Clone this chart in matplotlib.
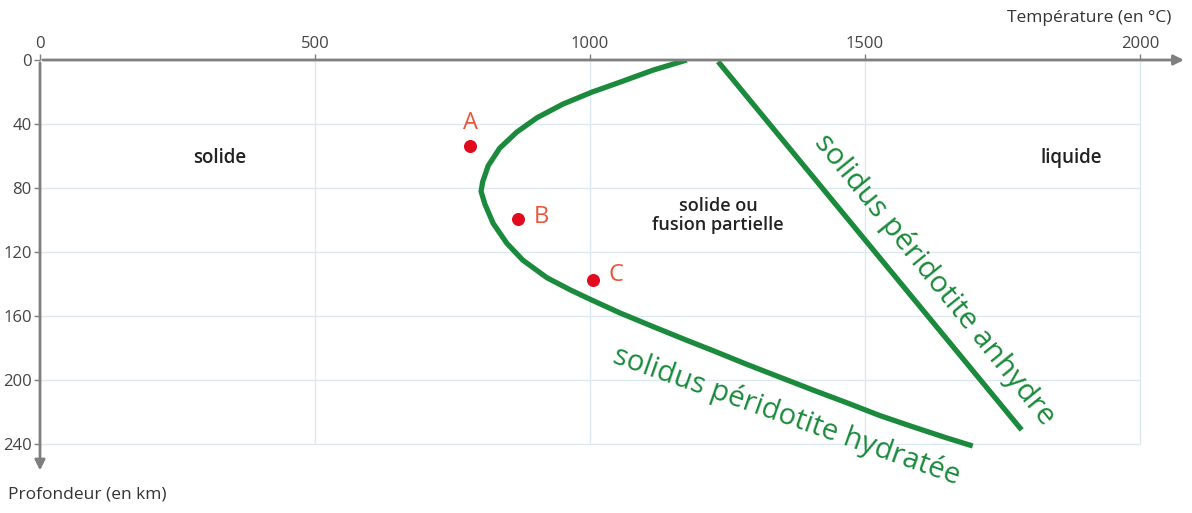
import numpy as np
import matplotlib.pyplot as plt

plt.rcParams['font.family'] = ['Open Sans', 'DejaVu Sans']

# solidus hydraté (température °C, profondeur km)
hyd_T = [1176, 1115, 1055, 1004, 951, 904, 867, 836, 815, 805, 802, 809, 824, 849, 878,
         922, 964, 1004, 1055, 1115, 1176, 1224, 1285, 1345, 1405, 1467, 1527, 1587, 1649, 1696]
hyd_z = [0, 6.3, 13.8, 20, 27.5, 36, 45, 55, 66, 76, 82, 90, 102, 114.5, 125,
         136, 143.5, 150, 158, 166.5, 175, 181.5, 190, 198, 206, 214, 222, 229, 236, 241]
# solidus anhydre
anh_T = [1233, 1785]
anh_z = [1, 231]
# points A, B, C
pt_names = ['A', 'B', 'C']
pt_T = [782, 869, 1005]
pt_z = [54, 99, 137.5]

xticks = [0, 500, 1000, 1500, 2000]
yticks = [0, 40, 80, 120, 160, 200, 240]

green = '#1b8a3c'
grey = '#7f7f7f'

fig = plt.figure(figsize=(11.92, 5.13), dpi=100)
ax = fig.add_axes([40/1192, 1 - 470/513, 1145/1192, 410/513])
ax.set_xlim(0, 2082)
ax.set_ylim(256, 0)

# grille
ax.hlines(yticks[1:], 0, 2000, color='#dce8ef', lw=1, zorder=0)
ax.vlines(xticks[1:], 0, 240, color='#dce8ef', lw=1, zorder=0)

for s in ax.spines.values():
    s.set_visible(False)
ax.annotate('', xy=(2085, 0), xytext=(0, 0), annotation_clip=False,
            arrowprops=dict(arrowstyle='-|>,head_length=0.6,head_width=0.3', color=grey, lw=2))
ax.annotate('', xy=(0, 258), xytext=(0, 0), annotation_clip=False,
            arrowprops=dict(arrowstyle='-|>,head_length=0.6,head_width=0.3', color=grey, lw=2))

ax.xaxis.tick_top()
ax.set_xticks(xticks)
ax.set_yticks(yticks)
ax.tick_params(colors=grey, labelcolor='#444444', labelsize=12, length=4, width=1, pad=2)

ax.text(2058, -26, 'Température (en °C)', ha='right', va='center', fontsize=12.5, color='#333333')
ax.text(-58, 271, 'Profondeur (en km)', ha='left', va='center', fontsize=12.5, color='#333333')

# courbes
ax.plot(hyd_T, hyd_z, color=green, lw=3.8, solid_capstyle='butt', solid_joinstyle='round')
ax.plot(anh_T, anh_z, color=green, lw=3.8, solid_capstyle='butt')

ax.scatter(pt_T, pt_z, s=70, color='#e10a1e', zorder=5)
ax.text(pt_T[0], pt_z[0] - 7, pt_names[0], ha='center', va='bottom', fontsize=17, color='#e8573a')
ax.text(pt_T[1] + 28, pt_z[1] - 1, pt_names[1], ha='left', va='center', fontsize=17, color='#e8573a')
ax.text(pt_T[2] + 28, pt_z[2] - 3, pt_names[2], ha='left', va='center', fontsize=17, color='#e8573a')

ax.text(327, 61, 'solide', ha='center', va='center', fontsize=13.5, color='#222222', weight='semibold')
ax.text(1876, 61, 'liquide', ha='center', va='center', fontsize=13.5, color='#222222', weight='semibold')
ax.text(1233, 97, 'solide ou\nfusion partielle', ha='center', va='center', fontsize=13,
        color='#222222', linespacing=1.05, weight='semibold')

ax.text(1358, 222, 'solidus péridotite hydratée', ha='center', va='center', fontsize=21,
        color=green, rotation=-19.5, rotation_mode='anchor')
ax.text(1627, 137, 'solidus péridotite anhydre', ha='center', va='center', fontsize=21.5,
        color=green, rotation=-51, rotation_mode='anchor')

fig.savefig('out.png', dpi=100)
